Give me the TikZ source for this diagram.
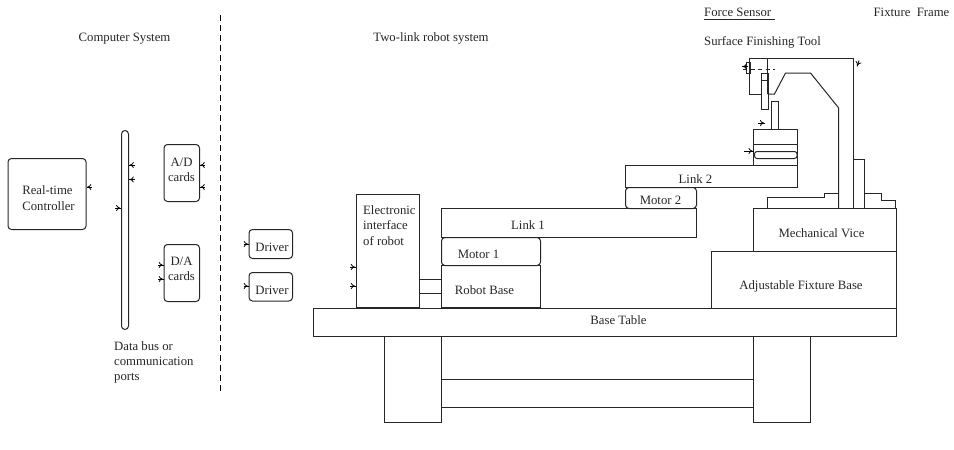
\documentclass[tikz,border=0pt]{standalone}
\usepackage{fontspec}
\setmainfont{Liberation Serif}
\usetikzlibrary{arrows.meta,calc,decorations.markings}
\tikzset{
  lbl/.style={inner sep=0pt,font=\fontsize{12.75}{15.3}\selectfont,text=black!85},
  blk/.style={draw=black!85,line width=1pt,inner sep=0pt,anchor=north west,rectangle},
  rnd/.style={blk,rounded corners=3.5pt},
  ln/.style={draw=black!85,line width=1pt},
  tick/.style={draw=black,line width=0.8pt,decoration={markings,mark=at position 0.85 with {\arrow{To[length=4pt,width=6pt,line width=0.8pt]}}},postaction={decorate}}
}
\newcommand{\boxat}[6]{% style,name,x1,y1,x2,y2
  \node[#1,minimum width=#5pt-#3pt,minimum height=#6pt-#4pt] (#2) at (#3,#4) {};}
\begin{document}
\begin{tikzpicture}[x=1pt,y=-1pt]
\useasboundingbox (0,0) rectangle (954,450);
% controller side
\boxat{rnd}{ctrl}{7.5}{158}{85.5}{229}
\boxat{rnd,rounded corners=3.5pt}{bus}{121}{130}{128}{329}
\boxat{rnd}{adc}{163.5}{144}{199}{201}
\boxat{rnd}{dac}{163.5}{244}{199}{301}
\boxat{rnd}{drva}{248.5}{229}{292}{258}
\boxat{rnd}{drvb}{248.5}{272}{292}{300.5}
\boxat{blk}{iface}{355.7}{194}{419.3}{307}
% robot
\boxat{blk}{linkone}{441}{208}{696}{237}
\boxat{rnd}{motorone}{441}{237}{540}{265}
\boxat{blk}{rbase}{441}{265}{540}{307}
\boxat{rnd}{motortwo}{625}{187}{696}{208}
\boxat{blk}{linktwo}{625}{165}{796.5}{187}
\boxat{blk}{table}{313}{308}{895.5}{336}
\boxat{blk}{legl}{384}{336}{441}{421.5}
\boxat{blk}{legr}{753}{336}{810}{421.5}
\boxat{blk}{cross}{441}{379}{753}{407}
\boxat{blk}{fixbase}{711}{251}{895.5}{308}
\boxat{blk}{vice}{753.3}{208}{895.5}{251}
% wrist
\boxat{blk}{wristtop}{753.3}{129.3}{796.5}{144}
\boxat{blk}{wristlow}{753.3}{144}{796.5}{165}
\boxat{rnd,rounded corners=2.5pt}{slot}{754}{151}{796.5}{158}
\boxat{blk}{stud}{771.3}{101}{778.3}{129.3}
\boxat{blk}{tool}{760.5}{73}{767.7}{108.5}
\boxat{blk}{sensor}{746}{62}{750}{73}
\boxat{blk}{clamp}{853}{158.5}{863.5}{208}
% interface wires
\draw[ln] ($(iface.south east)!0.248!(iface.north east)$) coordinate (wa) -- (wa -| rbase.west);
\draw[ln] ($(iface.south east)!0.124!(iface.north east)$) coordinate (wb) -- (wb -| rbase.west);
% fixture frame outline
\coordinate (fa) at (749.5,94);
\coordinate (fb) at (749.5,58.5);
\coordinate (fc) at (853,58.5);
\coordinate (fd) at (853,208);
\coordinate (fe) at (838.7,208);
\coordinate (ff) at (838.7,108);
\coordinate (fg) at (810.5,73);
\coordinate (fh) at (785.5,73);
\coordinate (fi) at (774.5,94);
\coordinate (fj) at (767.7,94);
\coordinate (fk) at (767.7,58.5);
\coordinate (fl) at (760.5,94);
\draw[ln] (fl) -- (fa) -- (fb) -- (fc) -- (fd);
\draw[ln] (fj) -- (fi) -- (fh) -- (fg) -- (ff) -- (fe);
\draw[ln] (fk) -- (fj);
\draw[ln] (tool.north west) ++(0,7.5) coordinate (tm) -- (tm -| tool.east);
% vice jaws
\coordinate (ja) at (767.5,208);
\coordinate (jb) at (767.5,197.5);
\coordinate (jc) at (824.5,197.5);
\coordinate (jd) at (824.5,193.7);
\coordinate (je) at (838.7,193.7);
\coordinate (jf) at (863.5,193.7);
\coordinate (jg) at (881.7,193.7);
\coordinate (jh) at (881.7,200.7);
\coordinate (ji) at (895.5,200.7);
\coordinate (jj) at (895.5,208);
\draw[ln] (ja) -- (jb) -- (jc) -- (jd) -- (je);
\draw[ln] (jf) -- (jg) -- (jh) -- (ji) -- (jj);
% dashed
\coordinate (sa) at (743,69.5);
\coordinate (sb) at (775,69.5);
\draw[ln,dash pattern=on 4pt off 3.5pt] (sa) -- (sb);
\coordinate (dsa) at (220,15);
\coordinate (dsb) at (220,393);
\draw[draw=black,line width=1pt,dash pattern=on 6pt off 4pt] (dsa) -- (dsb);
% ticks: pointing toward the owning shape
\draw[tick] (92,187) -- (ctrl.east |- 0,187);
\draw[tick] (134.5,165) -- (bus.east |- 0,165);
\draw[tick] (134.5,179.5) -- (bus.east |- 0,179.5);
\draw[tick] (115,208) -- (bus.west |- 0,208);
\draw[tick] (205,165) -- (adc.east |- 0,165);
\draw[tick] (205,187) -- (adc.east |- 0,187);
\draw[tick] (158,265) -- (dac.west |- 0,265);
\draw[tick] (158,279) -- (dac.west |- 0,279);
\draw[tick] (243.5,244) -- (drva.west |- 0,244);
\draw[tick] (243.5,286) -- (drvb.west |- 0,286);
\draw[tick] (350,267) -- (iface.west |- 0,267);
\draw[tick] (350,286) -- (iface.west |- 0,286);
\draw[tick] (744,151) -- (slot.west |- 0,151);
\coordinate (ta) at (758,123);
\coordinate (tb) at (765,123);
\draw[tick] (ta) -- (tb);
\coordinate (tc) at (748,66.5);
\coordinate (td) at (742,66.5);
\draw[tick] (tc) -- (td);
\coordinate (te) at (859,60.5);
\coordinate (tf) at (857,66.5);
\draw[tick] (te) -- (tf);
% labels
\node[lbl] (tcs) at (124.5,38.5) {Computer System};
\node[lbl] (ttl) at (431,38) {Two-link robot system};
\node[lbl,anchor=west] (tfs) at (704,12.5) {Force Sensor};
\draw[ln] (tfs.west |- 0,19.5) -- (774.5,19.5);
\node[lbl] (tff) at (911.5,12.5) {Fixture\hspace{0.5em}Frame};
\node[lbl,anchor=west] (tst) at (704,42) {Surface Finishing Tool};
\node[lbl,align=left] (trc) at (48.5,198) {Real-time\\Controller};
\node[lbl,align=center] (tad) at (181.5,170) {A/D\\cards};
\node[lbl,align=center] (tda) at (181.5,269) {D/A\\cards};
\node[lbl,anchor=north west,align=left] (tdb) at (114,341) {Data bus or\\communication\\ports};
\node[lbl] (tdra) at (272,247) {Driver};
\node[lbl] (tdrb) at (272,290) {Driver};
\node[lbl,anchor=north west,align=left] (tei) at (363,205.5) {Electronic\\interface\\of robot};
\node[lbl] (tla) at (528,225.5) {Link 1};
\node[lbl] (tma) at (478.5,254) {Motor 1};
\node[lbl] (trb) at (484.5,290) {Robot Base};
\node[lbl] (tlb) at (695.5,179) {Link 2};
\node[lbl] (tmb) at (660.5,200) {Motor 2};
\node[lbl] (tmv) at (821.5,233) {Mechanical Vice};
\node[lbl] (taf) at (801,286) {Adjustable Fixture Base};
\node[lbl] (tbt) at (618.5,320.5) {Base Table};
\end{tikzpicture}
\end{document}
